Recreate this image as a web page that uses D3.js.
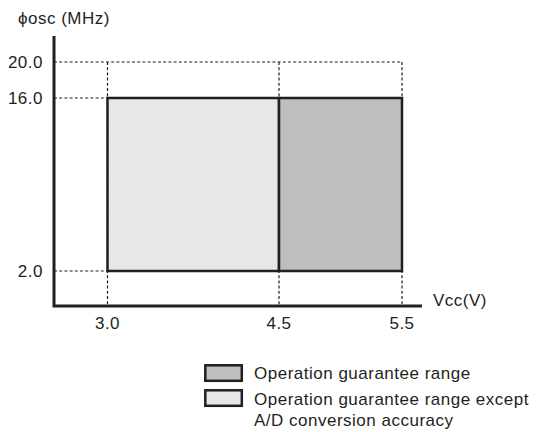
<!DOCTYPE html>
<html><head><meta charset="utf-8">
<script src="https://cdn.jsdelivr.net/npm/d3@7"></script>
<style>body{margin:0;background:#fff}svg{display:block}text{font-family:"Liberation Sans",Arial,sans-serif;fill:#231f20;letter-spacing:0.5px}</style>
</head><body><svg id="c" width="541" height="432"></svg>
<script>
const xTicks = [3.0, 4.5, 5.5];
const yTicks = [2.0, 16.0, 20.0];
const xLabels = ["3.0", "4.5", "5.5"];
const yLabels = ["2.0", "16.0", "20.0"];
const regions = [
  {name: "Operation guarantee range except A/D conversion accuracy", x0: 3.0, x1: 4.5, y0: 2.0, y1: 16.0, fill: "#e6e7e8"},
  {name: "Operation guarantee range", x0: 4.5, x1: 5.5, y0: 2.0, y1: 16.0, fill: "#bcbec0"}
];
const legendItems = [
  {lines: ["Operation guarantee range"], fill: "#bcbec0"},
  {lines: ["Operation guarantee range except", "A/D conversion accuracy"], fill: "#e6e7e8"}
];
const xTitle = "Vcc(V)";
const yTitle = "\u03D5osc (MHz)";

const svg = d3.select("#c");
const ink = "#231f20";
const fs = 17;
// schematic (non-uniform) axes: piecewise linear scales
const x = d3.scaleLinear().domain([2.5, 3.0, 4.5, 5.5, 5.66]).range([54, 107.5, 279, 402, 422]);
const y = d3.scaleLinear().domain([0, 2.0, 16.0, 20.0, 23.0]).range([306, 271, 98, 62, 36]);

// dotted guides
const g = svg.append("g").attr("stroke", ink).attr("stroke-width", 1.2).attr("stroke-dasharray", "3,2.2").attr("fill", "none");
g.append("line").attr("x1", x(2.5)).attr("x2", x(5.5)).attr("y1", y(20)).attr("y2", y(20));
g.append("line").attr("x1", x(2.5)).attr("x2", x(3.0)).attr("y1", y(16)).attr("y2", y(16));
g.append("line").attr("x1", x(2.5)).attr("x2", x(3.0)).attr("y1", y(2)).attr("y2", y(2));
xTicks.forEach(t => {
  g.append("line").attr("x1", x(t)).attr("x2", x(t)).attr("y1", y(20)).attr("y2", y(0));
});

// regions
svg.append("g").selectAll("rect").data(regions).join("rect")
  .attr("x", d => x(d.x0)).attr("y", d => y(d.y1))
  .attr("width", d => x(d.x1) - x(d.x0)).attr("height", d => y(d.y0) - y(d.y1))
  .attr("fill", d => d.fill).attr("stroke", ink).attr("stroke-width", 2.5);

// axes
svg.append("path").attr("d", `M${x(2.5)},${y(23)}V${y(0)}H${x(5.66)}`)
  .attr("fill", "none").attr("stroke", ink).attr("stroke-width", 3);

// tick labels
svg.append("g").selectAll("text").data(xTicks).join("text")
  .attr("x", d => x(d)).attr("y", y(0) + 23).attr("text-anchor", "middle")
  .attr("font-size", fs).text((d, i) => xLabels[i]);
svg.append("g").selectAll("text").data(yTicks).join("text")
  .attr("x", x(2.5) - 11).attr("y", d => y(d) + 6).attr("text-anchor", "end")
  .attr("font-size", fs).text((d, i) => yLabels[i]);

// titles
svg.append("text").attr("x", 18).attr("y", 24).attr("font-size", fs).text(yTitle);
svg.append("text").attr("x", 433).attr("y", 306).attr("font-size", fs).text(xTitle);

// legend
const lg = svg.append("g");
legendItems.forEach((it, i) => {
  const ly = 365.3 + i * 25;
  lg.append("rect").attr("x", 205.3).attr("y", ly).attr("width", 36.5).attr("height", 15.5)
    .attr("fill", it.fill).attr("stroke", ink).attr("stroke-width", 2.5);
  it.lines.forEach((ln, j) => {
    lg.append("text").attr("x", 254).attr("y", ly + 13.5 + i * 1.5 + j * 21).attr("font-size", fs).text(ln);
  });
});
</script></body></html>
